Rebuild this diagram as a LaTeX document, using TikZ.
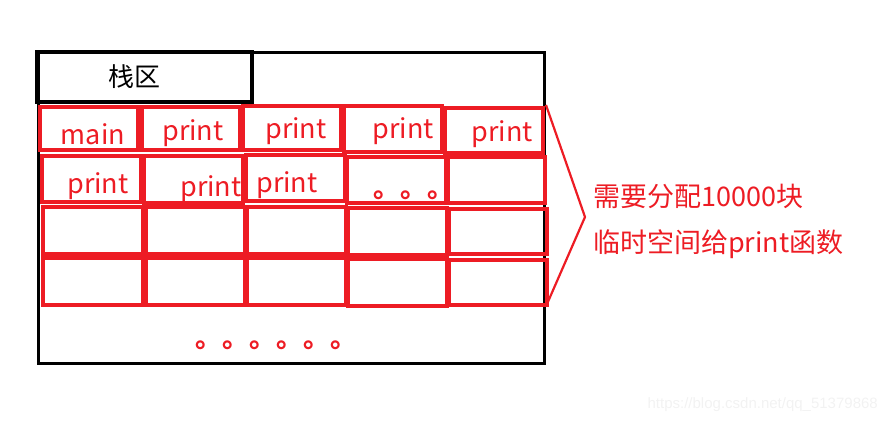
\documentclass[tikz,border=0pt]{standalone}
\usepackage{fontspec}
\setmainfont{Noto Sans CJK SC}
\newfontfamily\wmfont{Liberation Sans}
\definecolor{pred}{RGB}{237,28,36}
\tikzset{
  redbox/.style={draw=pred, line width=3.5pt},
  blackbox/.style={draw=black, line width=0.9pt},
  frame/.style={draw=black, line width=3pt},
  cell/.style={inner sep=0pt, outer sep=0pt, anchor=base, text=pred, font=\fontsize{27}{30}\selectfont},
  note/.style={inner sep=0pt, anchor=base west, text=pred, font=\fontsize{27}{30}\selectfont},
}
\newcommand{\cellbox}[5]{%
  \draw[blackbox] (#2-1.5,#3-1.5) rectangle (#4+1.5,#5+1.5);
  \draw[redbox] (#2,#3) rectangle (#4,#5);
  \coordinate (#1) at ({(#2+#4)/2},{(#3+#5)/2});
}
\begin{document}
\begin{tikzpicture}[x=1pt,y=-1pt]
\useasboundingbox (0,0) rectangle (889,423);
% outer frame
\draw[frame] (38,52) rectangle (544,363);
% header
\draw[draw=black, line width=4pt] (37,52) rectangle (252,102);
\node[inner sep=0pt, anchor=base, font=\fontsize{26}{30}\selectfont] (hdr) at (134,86) {栈区};
% cells
\cellbox{c11}{40}{107}{138}{150}
\cellbox{c12}{142}{107}{240}{150}
\cellbox{c13}{243}{106}{341}{150}
\cellbox{c14}{344}{106}{442}{152}
\cellbox{c15}{445}{108}{543}{153}
\cellbox{c21}{42}{156}{141}{202}
\cellbox{c22}{144}{156}{243}{203}
\cellbox{c23}{246}{155}{345}{201}
\cellbox{c24}{347}{157}{446}{203}
\cellbox{c25}{448}{157}{545}{203}
\cellbox{c31}{43}{207}{143}{254}
\cellbox{c32}{146}{207}{245}{254}
\cellbox{c33}{247}{207}{346}{254}
\cellbox{c34}{348}{208}{447}{255}
\cellbox{c35}{449}{209}{547}{254}
\cellbox{c41}{43}{258}{143}{305}
\cellbox{c42}{146}{258}{245}{305}
\cellbox{c43}{247}{258}{346}{305}
\cellbox{c44}{348}{259}{447}{306}
\cellbox{c45}{449}{260}{547}{305}
% cell texts
\node[cell] (t11) at (93,144) {main};
\node[cell] (t12) at (193,140) {print};
\node[cell] (t13) at (296,138) {print};
\node[cell] (t14) at (403,138) {print};
\node[cell] (t15) at (502,141) {print};
\node[cell] (t21) at (98,193) {print};
\node[cell] (t22) at (211,196) {print};
\node[cell] (t23) at (287,192) {print};
\node[note, font=\bfseries\fontsize{27}{30}\selectfont] (t24) at (373,197) {。。。};
\node[note, font=\bfseries\fontsize{27}{30}\selectfont] (dots) at (195,347) {。。。。。。};
% bracket
\coordinate (bt) at (546,105);
\coordinate (bp) at (585,217);
\coordinate (bb) at (547,304);
\draw[draw=pred, line width=2.2pt] (bt) -- (bp) -- (bb);
% note text
\node[note] (n1) at (593,206) {需要分配10000块};
\node[note] (n2) at (593,252) {临时空间给print函数};
% watermark
\node[inner sep=0pt, anchor=base east, text=black!5, font=\wmfont\fontsize{15}{18}\selectfont] (wm) at (878,408) {https://blog.csdn.net/qq\_51379868};
\end{tikzpicture}
\end{document}
